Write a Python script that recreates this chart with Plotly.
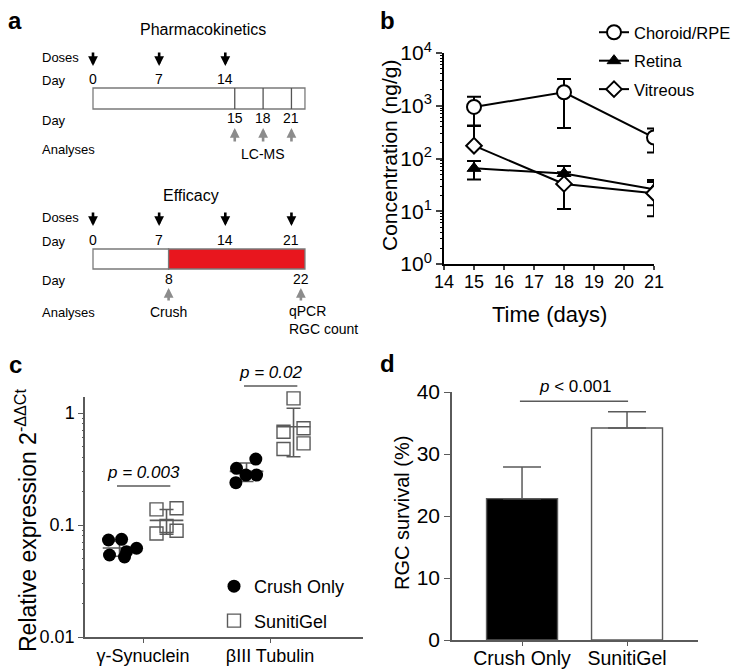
import numpy as np
import plotly.graph_objects as go

# The page body has an 8px margin, so the figure is drawn at (8, 8) in the window.
WIN_W, WIN_H = 745, 669
OX, OY = 8, 8
W, H = WIN_W - OX, WIN_H - OY
FONT = "Liberation Sans, Arial, sans-serif"

# ---------------- data ----------------
# panel a (study design)
pk_dose_days = [0, 7, 14]
pk_sample_days = [15, 18, 21]
eff_dose_days = [0, 7, 14, 21]
eff_crush_day = 8
eff_end_day = 22
timeline_end = 22.43  # drawn length of the schematic timeline (days)

# panel b (pharmacokinetics)
b_days = [15, 18, 21]
b_choroid = [950, 1800, 250]
b_choroid_err = [530, 1420, 120]
b_retina = [65, 52, 26]
b_retina_err = [25, 20, 13]
b_vitreous = [175, 33, 22]
b_vitreous_err_up = [240, 22, 14]
b_vitreous_err_dn = [0, 22, 14]

# panel c (qPCR)
c_genes = ["γ-Synuclein", "βIII Tubulin"]
c_crush_gsyn = [0.0735, 0.0745, 0.0578, 0.054, 0.0518, 0.062]
c_suniti_gsyn = [0.138, 0.141, 0.084, 0.089, 0.098]
c_crush_btub = [0.388, 0.321, 0.279, 0.279, 0.239]
c_suniti_btub = [1.35, 0.681, 0.730, 0.477, 0.536]
c_jitter_crush_gsyn = [-0.087, 0.016, 0.055, -0.079, 0.039, 0.134]
c_jitter_suniti_gsyn = [-0.079, 0.079, -0.079, 0.079, 0.0]
c_jitter_crush_btub = [0.073, -0.079, -0.005, 0.079, -0.084]
c_jitter_suniti_btub = [0.0, -0.079, 0.079, -0.079, 0.079]
c_pvalues = ["p = 0.003", "p = 0.02"]
c_pline_y = [0.223, 1.74]

# panel d (RGC survival)
d_groups = ["Crush Only", "SunitiGel"]
d_survival = [22.8, 34.2]
d_err = [5.1, 2.6]
d_pvalue = "<i>p</i> < 0.001"

# ---------------- helpers (window pixels -> paper) ----------------
def px(x):
    return (x - OX) / W

def py(y):
    return 1 - (y - OY) / H

# panel geometry (paper fractions)
B_X = [px(444), px(654)]; B_Y = [py(264), py(53)]
C_X = [px(85), px(363)];  C_Y = [py(637), py(397)]
D_X = [px(452), px(698)]; D_Y = [py(640), py(392)]
C_YR = [-2, 0.143]
A_SCALE = 9.45  # px per day in the schematic, day 0 at x=93
A_RIGHT = 342.7

def c_paper_y(v):
    return C_Y[0] + (np.log10(v) - C_YR[0]) / (C_YR[1] - C_YR[0]) * (C_Y[1] - C_Y[0])

fig = go.Figure()

# ---------------- panel b ----------------
b_series = [
    ("Choroid/RPE", b_choroid, b_choroid_err, b_choroid_err,
     dict(symbol="circle", size=14, color="white", line=dict(color="black", width=2))),
    ("Retina", b_retina, b_retina_err, b_retina_err,
     dict(symbol="triangle-up", size=12, color="black", line=dict(color="black", width=1))),
    ("Vitreous", b_vitreous, b_vitreous_err_up, b_vitreous_err_dn,
     dict(symbol="diamond", size=12, color="white", line=dict(color="black", width=2))),
]
for name, vals, eup, edn, mk in b_series:
    fig.add_trace(go.Scatter(
        x=b_days, y=vals, name=name, mode="lines+markers",
        line=dict(color="black", width=2), marker=mk,
        error_y=dict(type="data", array=eup, arrayminus=edn, symmetric=False,
                     color="black", thickness=2, width=7),
        xaxis="x", yaxis="y", legend="legend", legendgroup=name,
    ))
# carrier for the minor-tick overlay axis
fig.add_trace(go.Scatter(x=[14], y=[1], mode="markers", marker=dict(opacity=0),
                         showlegend=False, hoverinfo="skip", xaxis="x", yaxis="y5"))

# ---------------- panel c ----------------
c_pos = [1, 2]
off = 0.185
groups_c = [
    (c_pos[0] - off, c_crush_gsyn, c_jitter_crush_gsyn, "crush"),
    (c_pos[0] + off, c_suniti_gsyn, c_jitter_suniti_gsyn, "suniti"),
    (c_pos[1] - off, c_crush_btub, c_jitter_crush_btub, "crush"),
    (c_pos[1] + off, c_suniti_btub, c_jitter_suniti_btub, "suniti"),
]
GRAY = "#5a5a5a"
for xc, vals, jit, kind in groups_c:
    m = float(np.mean(vals))
    s = float(np.std(vals, ddof=1))
    fig.add_trace(go.Scatter(
        x=[xc], y=[m], mode="markers", showlegend=False,
        marker=dict(symbol="line-ew", size=24, line=dict(color=GRAY, width=1.6)),
        error_y=dict(type="data", array=[s], color=GRAY, thickness=1.6, width=7),
        xaxis="x2", yaxis="y2",
    ))
shown = set()
for xc, vals, jit, kind in groups_c:
    xs = [xc + j for j in jit]
    if kind == "crush":
        mk = dict(symbol="circle", size=13, color="black")
        nm = "Crush Only"
    else:
        mk = dict(symbol="square-open", size=13, color=GRAY, line=dict(width=1.4))
        nm = "SunitiGel"
    fig.add_trace(go.Scatter(
        x=xs, y=vals, mode="markers", marker=mk, name=nm,
        showlegend=(kind not in shown), legendgroup=nm, legend="legend2",
        xaxis="x2", yaxis="y2", cliponaxis=False,
    ))
    shown.add(kind)
fig.add_trace(go.Scatter(x=[1], y=[0.1], mode="markers", marker=dict(opacity=0),
                         showlegend=False, hoverinfo="skip", xaxis="x2", yaxis="y6"))

# ---------------- panel d ----------------
d_pos = [0, 1]
fig.add_trace(go.Bar(
    x=d_pos, y=d_survival, width=0.676, showlegend=False,
    marker=dict(color=["black", "white"], line=dict(color=GRAY, width=1.4)),
    error_y=dict(type="data", array=d_err, arrayminus=[0, 0], symmetric=False,
                 color=GRAY, thickness=1.5, width=19),
    xaxis="x3", yaxis="y3",
))

# ---------------- axes ----------------
tickfont = dict(family=FONT, color="black")
b_minor = [m * 10 ** e for e in range(0, 4) for m in range(2, 10)]
c_minor = [m * 10 ** e for e in (-2, -1, 0) for m in range(2, 10)]
c_minor = [v for v in c_minor if v < 10 ** C_YR[1]]
layout_axes = dict(
    xaxis=dict(domain=B_X, range=[14, 21], anchor="y",
               tickvals=list(range(14, 22)), ticks="outside", ticklen=4, tickwidth=2,
               ticklabelstandoff=-4,
               showline=True, linecolor="black", linewidth=2, showgrid=False, zeroline=False,
               tickfont=dict(tickfont, size=18)),
    yaxis=dict(domain=B_Y, type="log", range=[0, 4], anchor="x",
               tickvals=[1, 10, 100, 1000, 10000],
               ticktext=["10<sup>0</sup>", "10<sup>1</sup>", "10<sup>2</sup>", "10<sup>3</sup>", "10<sup>4</sup>"],
               ticks="outside", ticklen=6, tickwidth=2,
               showline=True, linecolor="black", linewidth=2, showgrid=False, zeroline=False,
               tickfont=dict(tickfont, size=21)),
    yaxis5=dict(overlaying="y", type="log", range=[0, 4], anchor="x", side="left",
                tickvals=b_minor, ticks="outside", ticklen=3, tickwidth=1, tickcolor="black",
                showticklabels=False, showline=False, showgrid=False, zeroline=False),
    xaxis2=dict(domain=C_X, range=[0.543, 2.732], anchor="y2",
                tickvals=c_pos, ticktext=c_genes, ticks="outside", ticklen=4, tickcolor=GRAY,
                ticklabelstandoff=-2,
                showline=True, linecolor=GRAY, linewidth=1.5, showgrid=False, zeroline=False,
                tickfont=dict(tickfont, size=18)),
    yaxis2=dict(domain=C_Y, type="log", range=C_YR, anchor="x2",
                tickvals=[0.01, 0.1, 1], ticktext=["0.01", "0.1", "1"],
                ticks="outside", ticklen=5, tickcolor=GRAY,
                showline=True, linecolor=GRAY, linewidth=1.5, showgrid=False, zeroline=False,
                tickfont=dict(tickfont, size=18)),
    yaxis6=dict(overlaying="y2", type="log", range=C_YR, anchor="x2", side="left",
                tickvals=c_minor, ticks="outside", ticklen=2.5, tickwidth=1, tickcolor=GRAY,
                showticklabels=False, showline=False, showgrid=False, zeroline=False),
    xaxis3=dict(domain=D_X, range=[-0.667, 1.676], anchor="y3",
                tickvals=d_pos, ticktext=d_groups, ticks="outside", ticklen=4, tickcolor=GRAY,
                ticklabelstandoff=-4,
                showline=True, linecolor=GRAY, linewidth=1.5, showgrid=False, zeroline=False,
                tickfont=dict(tickfont, size=19.5)),
    yaxis3=dict(domain=D_Y, range=[0, 40], anchor="x3",
                tickvals=[0, 10, 20, 30, 40], ticks="outside", ticklen=6, tickcolor=GRAY,
                showline=True, linecolor=GRAY, linewidth=1.5, showgrid=False, zeroline=False,
                tickfont=dict(tickfont, size=21)),
    xaxis4=dict(domain=[px(OX), px(A_RIGHT)],
                range=[(OX - 93) / A_SCALE, (A_RIGHT - 93) / A_SCALE], anchor="y4",
                visible=False, fixedrange=True),
    yaxis4=dict(domain=[py(341), py(OY)], range=[341, OY], anchor="x4",
                visible=False, fixedrange=True),
)

ann = []
shapes = []

def text(t, x, y, size, xref="x4", yref="y4", **kw):
    d = dict(text=t, x=x, y=y, xref=xref, yref=yref, showarrow=False,
             xanchor="center", yanchor="middle",
             font=dict(family=FONT, size=size, color=kw.pop("color", "black")))
    d.update(kw)
    ann.append(d)

def arrow(x, y_tip, dy, color, xref="x4", yref="y4"):
    ann.append(dict(text="", x=x, y=y_tip, xref=xref, yref=yref, showarrow=True,
                    ax=0, ay=dy, arrowhead=2, arrowsize=0.75, arrowwidth=2.6,
                    arrowcolor=color))

# panel labels
for lab, x, y in [("a", 15, 21), ("b", 387, 21), ("c", 15, 365), ("d", 387, 363)]:
    text("<b>%s</b>" % lab, px(x), py(y), 24, xref="paper", yref="paper")

# ---- panel a: pharmacokinetics ----
BOXC = "#7a7a7a"
text("Pharmacokinetics", 11.6, 29, 16)
for lbl, yy in [("Doses", 57), ("Day", 80), ("Day", 120), ("Analyses", 149)]:
    text(lbl, px(40), yy, 13, xref="paper", xanchor="left")
for d in pk_dose_days:
    arrow(d, 66, -15, "black")
    text(str(d), d, 79, 14)
shapes.append(dict(type="rect", xref="x4", yref="y4", x0=0, x1=timeline_end, y0=88, y1=109,
                   line=dict(color=BOXC, width=1.3), fillcolor="white", layer="above"))
for d in pk_sample_days:
    shapes.append(dict(type="line", xref="x4", yref="y4", x0=d, x1=d, y0=88, y1=109,
                       line=dict(color="#555", width=1.3), layer="above"))
    text(str(d), d, 118, 14)
    arrow(d, 128, 15, "#8c8c8c")
text("LC-MS", pk_sample_days[1], 154, 14)

# ---- panel a: efficacy ----
text("Efficacy", 10.4, 195, 16)
for lbl, yy in [("Doses", 217), ("Day", 241), ("Day", 280), ("Analyses", 312)]:
    text(lbl, px(40), yy, 13, xref="paper", xanchor="left")
for d in eff_dose_days:
    arrow(d, 226, -15, "black")
    text(str(d), d, 240, 14)
shapes.append(dict(type="rect", xref="x4", yref="y4", x0=0, x1=eff_crush_day, y0=249, y1=269,
                   line=dict(color=BOXC, width=1.3), fillcolor="white", layer="above"))
shapes.append(dict(type="rect", xref="x4", yref="y4", x0=eff_crush_day, x1=timeline_end, y0=249, y1=269,
                   line=dict(color=BOXC, width=1.3), fillcolor="#E8161E", layer="above"))
text(str(eff_crush_day), eff_crush_day, 279, 14)
arrow(eff_crush_day, 288, 14, "#8c8c8c")
text("Crush", eff_crush_day, 312, 14)
text(str(eff_end_day), eff_end_day, 279, 14)
arrow(eff_end_day, 288, 14, "#8c8c8c")
text("qPCR<br>RGC count", eff_end_day, 320, 14, xanchor="left", xshift=-14, align="left")

# ---- panel b titles ----
text("Concentration (ng/g)", px(390), py(156), 21, xref="paper", yref="paper", textangle=-90)
text("Time (days)", px(549), py(314), 22, xref="paper", yref="paper")

# ---- panel c titles / p values ----
text("Relative expression 2<sup>-ΔΔCt</sup>", px(26), py(521), 23, xref="paper", yref="paper",
     textangle=-90)
for i, (p, yl) in enumerate(zip(c_pvalues, c_pline_y)):
    x0 = c_pos[i] - off
    x1 = c_pos[i] + off
    yp = c_paper_y(yl)
    shapes.append(dict(type="line", xref="x2", yref="paper", x0=x0 - 0.02, x1=x1 + 0.03,
                       y0=yp, y1=yp, line=dict(color=GRAY, width=1.5)))
    text("<i>%s</i>" % p, (x0 + x1) / 2, yp, 17, xref="x2", yref="paper",
         yanchor="bottom", yshift=2)

# ---- panel d titles / p value ----
text("RGC survival (%)", px(402), py(513), 20, xref="paper", yref="paper", textangle=-90)
d_line_y = max(v + e for v, e in zip(d_survival, d_err)) + 1.7
shapes.append(dict(type="line", xref="x3", yref="y3", x0=d_pos[0] - 0.02, x1=d_pos[1] + 0.01,
                   y0=d_line_y, y1=d_line_y, line=dict(color=GRAY, width=1.5)))
text(d_pvalue, (d_pos[0] + d_pos[1]) / 2, d_line_y, 17, xref="x3", yref="y3",
     yanchor="bottom", yshift=3)

fig.update_layout(
    width=W, height=H, margin=dict(l=0, r=0, t=0, b=0, autoexpand=False),
    paper_bgcolor="white", plot_bgcolor="white",
    font=dict(family=FONT, color="black"),
    annotations=ann, shapes=shapes,
    legend=dict(x=px(594), y=py(15), xanchor="left", yanchor="top",
                font=dict(family=FONT, size=16.5), bgcolor="rgba(0,0,0,0)",
                traceorder="grouped", tracegroupgap=4, itemwidth=30),
    legend2=dict(x=px(214), y=py(568), xanchor="left", yanchor="top",
                 font=dict(family=FONT, size=18), bgcolor="rgba(0,0,0,0)",
                 traceorder="grouped", tracegroupgap=8),
    **layout_axes,
)

fig.write_html("out.html")
